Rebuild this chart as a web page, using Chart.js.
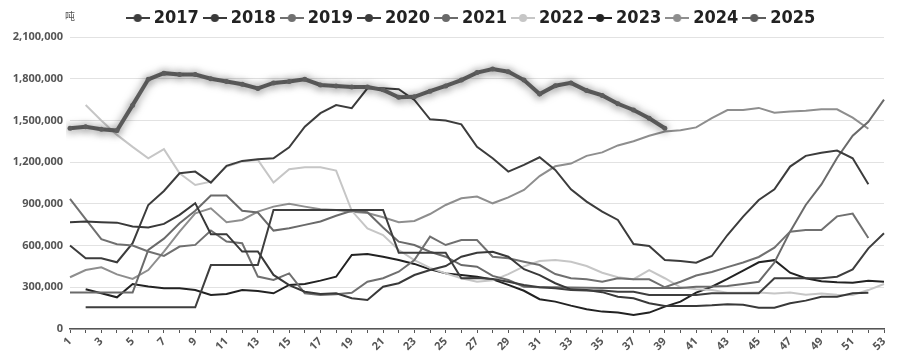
<!DOCTYPE html>
<html>
<head>
<meta charset="utf-8">
<script src="https://cdn.jsdelivr.net/npm/chart.js@4.4.1/dist/chart.umd.min.js"></script>
<style>
  html, body { margin: 0; padding: 0; background: #fff; }
  #wrap { width: 900px; height: 362px; }
</style>
</head>
<body>
<div id="wrap"><canvas id="chart"></canvas></div>
<script>
// 周次
const weeks = Array.from({ length: 53 }, (_, i) => String(i + 1));
const years = ["2017", "2018", "2019", "2020", "2021", "2022", "2023", "2024", "2025"];
const yTicks = [0, 300000, 600000, 900000, 1200000, 1500000, 1800000, 2100000];

const s2017 = [null, 156000, 156000, 156000, 156000, 156000, 156000, 156000, 156000, 460000, 460000, 460000, 460000, 856000, 856000, 856000, 856000, 856000, 856000, 856000, 856000, 549000, 549000, 549000, 549000, 365000, 366000, 360000, 340000, 316000, 300000, 293000, 280000, 276000, 276000, 268000, 268000, 245000, 245000, 245000, 245000, 257000, 257000, 257000, 257000, 365000, 365000, 365000, 365000, 376000, 429000, 580000, 688000];
const s2018 = [768000, 773000, 768000, 765000, 737000, 730000, 756000, 821000, 905000, 682000, 682000, 557000, 557000, 389000, 316000, 268000, 252000, 257000, 221000, 209000, 304000, 329000, 388000, 424000, 453000, 520000, 549000, 556000, 520000, 430000, 388000, 329000, 285000, 281000, 265000, 232000, 221000, 185000, 165000, 165000, 165000, 170000, 178000, 175000, 153000, 153000, 185000, 204000, 232000, 232000, 257000, 261000, null];
const s2019 = [936000, 790000, 646000, 610000, 600000, 557000, 526000, 593000, 605000, 708000, 629000, 617000, 377000, 353000, 400000, 256000, 245000, 250000, 261000, 340000, 365000, 412000, 496000, 664000, 604000, 640000, 640000, 520000, 509000, 484000, 460000, 395000, 365000, 357000, 340000, 365000, 357000, 357000, 300000, 340000, 385000, 410000, 445000, 478000, 518000, 585000, 700000, 712000, 712000, 810000, 830000, 655000, null];
const s2020 = [600000, 509000, 509000, 480000, 617000, 892000, 993000, 1120000, 1132000, 1053000, 1173000, 1209000, 1221000, 1228000, 1307000, 1455000, 1552000, 1611000, 1588000, 1731000, 1731000, 1724000, 1647000, 1508000, 1499000, 1472000, 1311000, 1228000, 1132000, 1180000, 1235000, 1144000, 1005000, 916000, 844000, 784000, 611000, 597000, 496000, 489000, 477000, 525000, 676000, 808000, 928000, 1005000, 1168000, 1245000, 1268000, 1283000, 1228000, 1041000, null];
const s2021 = [262000, 262000, 262000, 262000, 262000, 569000, 650000, 760000, 850000, 960000, 960000, 850000, 838000, 708000, 725000, 749000, 773000, 814000, 850000, 840000, 730000, 628000, 604000, 556000, 520000, 460000, 448000, 382000, 352000, 304000, 300000, 300000, 298000, 296000, 295000, 295000, 295000, 294000, 294000, 295000, 304000, 305000, 310000, 324000, 340000, 478000, 700000, 892000, 1040000, 1230000, 1390000, 1490000, 1650000];
const s2022 = [null, 1611000, 1500000, 1396000, 1310000, 1228000, 1293000, 1120000, 1036000, 1060000, 1168000, 1204000, 1216000, 1053000, 1149000, 1163000, 1163000, 1139000, 850000, 724000, 676000, 568000, 496000, 440000, 400000, 365000, 340000, 350000, 395000, 450000, 489000, 496000, 484000, 453000, 405000, 372000, 358000, 424000, 365000, 300000, 286000, 281000, 261000, 261000, 263000, 256000, 263000, 247000, 256000, 247000, 244000, 280000, 324000];
const s2023 = [null, 286000, 257000, 228000, 324000, 305000, 293000, 293000, 281000, 245000, 252000, 281000, 274000, 257000, 317000, 324000, 348000, 376000, 532000, 540000, 520000, 496000, 468000, 429000, 400000, 388000, 376000, 357000, 317000, 275000, 214000, 197000, 168000, 142000, 125000, 118000, 101000, 118000, 161000, 197000, 262000, 304000, 360000, 420000, 480000, 495000, 405000, 365000, 343000, 336000, 333000, 347000, 340000];
const s2024 = [372000, 424000, 444000, 393000, 360000, 424000, 556000, 700000, 832000, 868000, 768000, 784000, 844000, 880000, 900000, 880000, 861000, 856000, 844000, 834000, 804000, 768000, 777000, 827000, 892000, 940000, 952000, 904000, 947000, 1000000, 1100000, 1170000, 1190000, 1245000, 1270000, 1320000, 1350000, 1390000, 1420000, 1430000, 1450000, 1516000, 1575000, 1575000, 1590000, 1556000, 1565000, 1570000, 1580000, 1580000, 1520000, 1440000, null];
const s2025 = [1444000, 1455000, 1437000, 1427000, 1610000, 1796000, 1840000, 1830000, 1830000, 1800000, 1780000, 1760000, 1730000, 1770000, 1780000, 1796000, 1755000, 1748000, 1740000, 1740000, 1720000, 1667000, 1670000, 1710000, 1748000, 1790000, 1844000, 1870000, 1850000, 1790000, 1690000, 1750000, 1770000, 1715000, 1680000, 1620000, 1575000, 1515000, 1444000];

const seriesList = [s2017, s2018, s2019, s2020, s2021, s2022, s2023, s2024, s2025];
const colors = ["#3e3e3e", "#393939", "#707070", "#3c3c3c", "#6a6a6a", "#c6c6c6", "#222222", "#8e8e8e", "#5c5c5c"];

// 图例里的 "-●-" 标记
function makeMarker(color) {
  const c = document.createElement("canvas");
  c.width = 24;
  c.height = 12;
  const g = c.getContext("2d");
  g.strokeStyle = color;
  g.lineWidth = 2;
  g.beginPath();
  g.moveTo(0, 6);
  g.lineTo(24, 6);
  g.stroke();
  g.fillStyle = color;
  g.beginPath();
  g.arc(12, 6, 4, 0, Math.PI * 2);
  g.fill();
  return c;
}
const markers = colors.map(makeMarker);

const datasets = years.map((y, i) => {
  const last = i === years.length - 1;
  return {
    label: y,
    data: seriesList[i],
    borderColor: colors[i],
    backgroundColor: colors[i],
    borderWidth: last ? 4 : 2,
    pointRadius: last ? 2.5 : 0,
    pointBackgroundColor: colors[i],
    pointBorderWidth: 0,
    tension: 0,
    fill: false,
    order: last ? 0 : 1,
  };
});

// 2025 线的阴影
const shadowPlugin = {
  id: "shadow25",
  beforeDatasetDraw(chart, args) {
    if (args.index === 8) {
      const ctx = chart.ctx;
      ctx.save();
      ctx.shadowColor = "rgba(0,0,0,0.5)";
      ctx.shadowBlur = 9;
      ctx.shadowOffsetX = 0;
      ctx.shadowOffsetY = 1;
    }
  },
  afterDatasetDraw(chart, args) {
    if (args.index === 8) chart.ctx.restore();
  },
};

// 图例整体右移一点，单位 "吨"
const extrasPlugin = {
  id: "extras",
  afterLayout(chart) {
    if (chart.legend) chart.legend.left = 62;
  },
  afterDraw(chart) {
    const ctx = chart.ctx;
    ctx.save();
    ctx.font = '10px "Noto Sans CJK SC"';
    ctx.fillStyle = "#555";
    ctx.textAlign = "center";
    ctx.textBaseline = "middle";
    ctx.fillText("吨", 70, 16);
    ctx.restore();
  },
};

const defaultGen = Chart.defaults.plugins.legend.labels.generateLabels;

new Chart(document.getElementById("chart"), {
  type: "line",
  data: { labels: weeks, datasets: datasets },
  options: {
    responsive: true,
    maintainAspectRatio: false,
    animation: false,
    layout: { padding: { top: -5, right: 16, bottom: 0, left: 0 } },
    scales: {
      x: {
        afterFit(s) {
          s.height = 33;
          s.paddingLeft = 0;
          s.paddingRight = 0;
        },
        grid: { display: true, drawOnChartArea: false, drawTicks: true, tickLength: 4, color: "#555" },
        border: { display: true, color: "#555", width: 1.5 },
        ticks: {
          autoSkip: false,
          minRotation: 45,
          maxRotation: 45,
          padding: 2,
          color: "#555",
          font: { family: "'Open Sans', 'Liberation Sans'", size: 11, weight: "bold" },
          callback: function (v, i) {
            return i % 2 === 0 ? weeks[i] : "";
          },
        },
      },
      y: {
        min: 0,
        max: 2100000,
        afterFit(s) {
          s.width = 70;
          s.paddingTop = 37;
        },
        afterBuildTicks(s) {
          s.ticks = yTicks.map((v) => ({ value: v }));
        },
        grid: { color: "#e2e2e2", lineWidth: 1, drawTicks: false },
        border: { display: false },
        ticks: {
          padding: 7,
          color: "#555",
          font: { family: "'Open Sans', 'Liberation Sans'", size: 11, weight: "bold" },
          callback: (v) => v.toLocaleString("en-US"),
        },
      },
    },
    plugins: {
      legend: {
        position: "top",
        labels: {
          usePointStyle: true,
          pointStyleWidth: 14,
          padding: 9,
          color: "#222",
          font: { family: "'DejaVu Sans Condensed', 'Liberation Sans'", size: 18, weight: "bold" },
          sort: (a, b) => a.datasetIndex - b.datasetIndex,
          generateLabels(chart) {
            const items = defaultGen(chart);
            items.forEach((it) => {
              it.pointStyle = markers[it.datasetIndex];
            });
            return items;
          },
        },
      },
      tooltip: { enabled: false },
    },
  },
  plugins: [shadowPlugin, extrasPlugin],
});
</script>
</body>
</html>
